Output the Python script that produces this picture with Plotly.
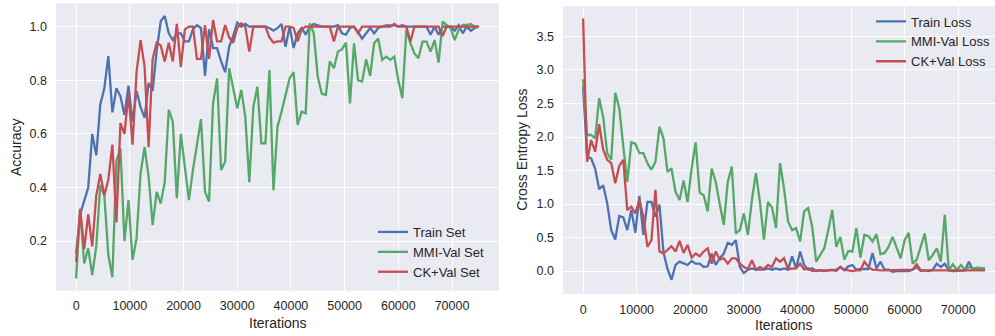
import plotly.graph_objects as go

# ---------------- data ----------------
iterations = list(range(0, 75001, 750))

train_acc = [0.154, 0.30, 0.35, 0.40, 0.60, 0.52, 0.71, 0.77, 0.89, 0.68,
             0.77, 0.74, 0.67, 0.78, 0.645, 0.76, 0.70, 0.66, 0.79, 0.76,
             0.91, 1.02, 1.04, 0.975, 0.95, 0.975, 0.975, 0.945, 0.945, 0.99,
             1.005, 0.995, 0.816, 0.99, 0.92, 0.92, 0.87, 0.83, 0.925, 0.965,
             1.015, 1.0, 1.01, 1.0, 1.0, 1.0, 1.0, 1.0, 0.995, 0.985,
             0.995, 1.01, 0.925, 1.0, 0.92, 0.975, 0.995, 0.97, 1.0, 1.01,
             1.005, 1.0, 1.0, 1.0, 1.0, 1.005, 0.975, 0.97, 0.995, 1.0,
             0.98, 0.955, 0.975, 0.995, 0.975, 0.995, 1.0, 1.005, 1.005, 1.005,
             1.0, 1.005, 1.0, 1.0, 1.0, 1.0, 1.0, 1.0, 0.97, 1.0,
             0.97, 1.0, 1.0, 1.0, 0.985, 1.005, 0.975, 1.0, 0.985, 0.995,
             1.0]

mmi_acc = [0.061, 0.32, 0.117, 0.173, 0.073, 0.18, 0.41, 0.37, 0.148, 0.065,
           0.50, 0.546, 0.20, 0.353, 0.13, 0.21, 0.453, 0.55, 0.44, 0.26,
           0.384, 0.34, 0.42, 0.69, 0.645, 0.36, 0.60, 0.465, 0.353, 0.465,
           0.565, 0.655, 0.384, 0.347, 0.714, 0.807, 0.465, 0.496, 0.845, 0.764,
           0.695, 0.764, 0.664, 0.42, 0.70, 0.776, 0.565, 0.565, 0.838, 0.39,
           0.627, 0.683, 0.74, 0.807, 0.83, 0.633, 0.683, 0.677, 1.012, 0.975,
           0.813, 0.75, 0.745, 0.87, 0.845, 0.907, 0.915, 0.94, 0.714, 0.938,
           0.80, 0.795, 0.878, 0.816, 0.938, 0.956, 0.876, 0.888, 0.876, 0.888,
           0.80, 0.733, 0.988, 0.938, 0.90, 0.882, 0.944, 0.944, 0.907, 0.95,
           0.866, 1.019, 1.006, 0.994, 0.95, 0.988, 1.006, 1.006, 1.01, 1.0,
           1.0]

ck_acc = [0.123, 0.32, 0.17, 0.30, 0.18, 0.37, 0.45, 0.37, 0.43, 0.56,
          0.27, 0.64, 0.60, 0.75, 0.56, 0.83, 0.95, 0.85, 0.55, 0.88,
          0.94, 0.93, 0.87, 0.94, 0.87, 1.01, 0.85, 0.99, 1.0, 1.0,
          0.88, 0.88, 1.006, 0.88, 1.025, 0.945, 0.945, 1.006, 0.96, 0.94,
          0.995, 1.012, 1.0, 0.907, 1.0, 1.0, 1.0, 1.0, 0.96, 0.94,
          0.945, 0.945, 1.0, 1.0, 0.995, 0.945, 0.99, 1.0, 1.0, 1.0,
          1.0, 1.0, 1.0, 1.0, 0.945, 1.0, 1.0, 1.0, 1.0, 1.0,
          0.975, 1.0, 1.0, 1.0, 1.0, 1.0, 1.0, 1.0, 1.0, 1.01,
          1.0, 1.0, 1.0, 0.944, 1.0, 1.0, 1.0, 1.0, 1.0, 1.0,
          1.0, 0.965, 1.0, 1.0, 1.0, 1.0, 1.0, 1.0, 1.0, 1.0,
          1.0]

train_loss = [2.75, 1.71, 1.68, 1.53, 1.22, 1.28, 1.01, 0.61, 0.47, 0.82,
              0.80, 0.61, 0.91, 0.57, 1.12, 0.54, 1.03, 1.03, 0.81, 0.99,
              0.28, 0.03, -0.13, 0.09, 0.14, 0.11, 0.09, 0.15, 0.11, 0.11,
              0.06, 0.07, 0.26, 0.09, 0.19, 0.26, 0.42, 0.39, 0.46, 0.06,
              -0.03, 0.02, 0.04, 0.02, 0.02, 0.02, 0.04, 0.02, 0.04, 0.02,
              0.04, 0.02, 0.22, 0.04, 0.29, 0.09, 0.02, 0.04, 0.0, 0.01,
              0.0, 0.01, 0.02, 0.0, 0.06, 0.01, 0.07, 0.09, 0.02, 0.03,
              0.03, 0.03, 0.27, 0.04, 0.14, 0.02, 0.02, -0.01, 0.0, 0.0,
              0.01, 0.0, 0.02, 0.06, 0.0, 0.01, 0.0, 0.02, 0.11, 0.06,
              0.11, 0.01, 0.0, 0.0, 0.0, 0.01, 0.14, 0.02, 0.02, 0.03,
              0.02]

mmi_loss = [2.86, 2.03, 2.03, 1.98, 2.58, 2.30, 1.76, 1.66, 2.66, 2.43,
            1.86, 1.33, 1.92, 1.90, 1.76, 1.76, 1.61, 1.51, 1.63, 2.15,
            1.98, 1.48, 1.53, 1.18, 1.06, 1.35, 1.03, 1.53, 1.92, 1.17,
            1.13, 0.89, 1.53, 1.33, 1.00, 0.69, 1.33, 1.56, 0.56, 0.61,
            0.86, 0.54, 1.06, 1.46, 1.03, 0.47, 1.03, 0.95, 0.64, 1.61,
            1.23, 0.74, 0.61, 0.64, 0.44, 0.89, 0.94, 0.66, 0.14, 0.24,
            0.34, 0.61, 0.91, 0.36, 0.51, 0.17, 0.30, 0.29, 0.64, 0.20,
            0.54, 0.52, 0.44, 0.55, 0.25, 0.27, 0.36, 0.51, 0.34, 0.19,
            0.46, 0.57, 0.11, 0.17, 0.36, 0.56, 0.16, 0.24, 0.34, 0.14,
            0.84, 0.01, 0.10, 0.02, 0.09, 0.02, 0.06, 0.04, 0.05, 0.04,
            0.04]

ck_loss = [3.77, 1.63, 1.955, 1.78, 2.19, 1.81, 1.66, 1.61, 1.31, 1.57,
           1.66, 0.91, 0.96, 0.86, 1.06, 0.81, 0.36, 0.46, 1.21, 0.29,
           0.26, 0.31, 0.37, 0.29, 0.45, 0.27, 0.39, 0.20, 0.26, 0.22,
           0.29, 0.34, 0.11, 0.29, 0.17, 0.19, 0.11, 0.19, 0.19, 0.11,
           0.06, 0.03, 0.16, 0.02, 0.06, 0.03, 0.09, 0.06, 0.19, 0.14,
           0.19, 0.03, 0.04, 0.04, 0.11, 0.025, 0.04, 0.0, 0.01, 0.01,
           0.01, 0.0, 0.01, 0.02, 0.06, 0.02, 0.01, 0.0, 0.01, 0.01,
           0.14, 0.06, 0.02, 0.01, 0.01, 0.01, 0.01, 0.01, 0.01, 0.01,
           0.01, 0.01, 0.02, 0.10, 0.01, 0.01, 0.01, 0.01, 0.01, 0.01,
           0.01, 0.01, 0.01, 0.01, 0.01, 0.01, 0.01, 0.01, 0.01, 0.01,
           0.01]

acc_names = ["Train Set", "MMI-Val Set", "CK+Val Set"]
loss_names = ["Train Loss", "MMI-Val Loss", "CK+Val Loss"]
x_ticks = [0, 10000, 20000, 30000, 40000, 50000, 60000, 70000]
acc_ticks = [0.2, 0.4, 0.6, 0.8, 1.0]
loss_ticks = [0.0, 0.5, 1.0, 1.5, 2.0, 2.5, 3.0, 3.5]

# ---------------- style ----------------
colors = ["#4C72B0", "#55A868", "#C44E52"]
W, H = 995, 336
FONT = "Liberation Sans, Arial, sans-serif"
TXT = "#262626"
BG = "#EAEAF2"


def xd(a, b):
    return [a / W, b / W]


def yd(top, bottom):
    return [1 - bottom / H, 1 - top / H]


fig = go.Figure()
for ys, name, c in zip([train_acc, mmi_acc, ck_acc], acc_names, colors):
    fig.add_trace(go.Scatter(x=iterations, y=ys, name=name, mode="lines",
                             line=dict(color=c, width=2.3),
                             xaxis="x", yaxis="y", legend="legend"))
for ys, name, c in zip([train_loss, mmi_loss, ck_loss], loss_names, colors):
    fig.add_trace(go.Scatter(x=iterations, y=ys, name=name, mode="lines",
                             line=dict(color=c, width=2.3),
                             xaxis="x2", yaxis="y2", legend="legend2"))

axis_common = dict(showgrid=True, gridcolor="white", gridwidth=1.4,
                   zeroline=False, showline=False, ticks="",
                   tickfont=dict(family=FONT, size=12.5, color=TXT),
                   automargin=False)

fig.update_layout(
    width=W, height=H,
    margin=dict(l=0, r=0, t=0, b=0, pad=0),
    paper_bgcolor="white", plot_bgcolor=BG,
    font=dict(family=FONT, color=TXT),
    xaxis=dict(domain=xd(56, 499), range=[-3750, 78750], tickvals=x_ticks,
               tickformat="d", anchor="y", ticklabelstandoff=6, **axis_common),
    yaxis=dict(domain=yd(3.3, 290.7), range=[0.015, 1.087], tickvals=acc_ticks,
               tickformat=".1f", anchor="x", ticklabelstandoff=8, **axis_common),
    xaxis2=dict(domain=xd(563, 995), range=[-3750, 76866], tickvals=x_ticks,
                tickformat="d", anchor="y2", ticklabelstandoff=6, **axis_common),
    yaxis2=dict(domain=yd(6, 294), range=[-0.343, 3.955], tickvals=loss_ticks,
                tickformat=".1f", anchor="x2", ticklabelstandoff=8, **axis_common),
    legend=dict(x=373 / W, y=1 - 217 / H, xanchor="left", yanchor="top",
                bgcolor="rgba(0,0,0,0)", font=dict(family=FONT, size=13, color=TXT),
                itemwidth=30),
    legend2=dict(x=871 / W, y=1 - 6.5 / H, xanchor="left", yanchor="top",
                 bgcolor="rgba(0,0,0,0)", font=dict(family=FONT, size=13, color=TXT),
                 itemwidth=30),
    annotations=[
        dict(text="Accuracy", x=16 / W, y=1 - 147 / H, xref="paper", yref="paper",
             textangle=-90, showarrow=False, xanchor="center", yanchor="middle",
             font=dict(family=FONT, size=14, color=TXT)),
        dict(text="Iterations", x=277.5 / W, y=1 - 323 / H, xref="paper", yref="paper",
             showarrow=False, xanchor="center", yanchor="middle",
             font=dict(family=FONT, size=14, color=TXT)),
        dict(text="Cross Entropy Loss", x=521.7 / W, y=1 - 150 / H, xref="paper",
             yref="paper", textangle=-90, showarrow=False, xanchor="center",
             yanchor="middle", font=dict(family=FONT, size=14, color=TXT)),
        dict(text="Iterations", x=784 / W, y=1 - 325 / H, xref="paper", yref="paper",
             showarrow=False, xanchor="center", yanchor="middle",
             font=dict(family=FONT, size=14, color=TXT)),
    ],
)

fig.write_html(
    "out.html",
    config={"displayModeBar": False},
    post_script="document.body.style.margin='0';document.body.style.overflow='hidden';",
)
